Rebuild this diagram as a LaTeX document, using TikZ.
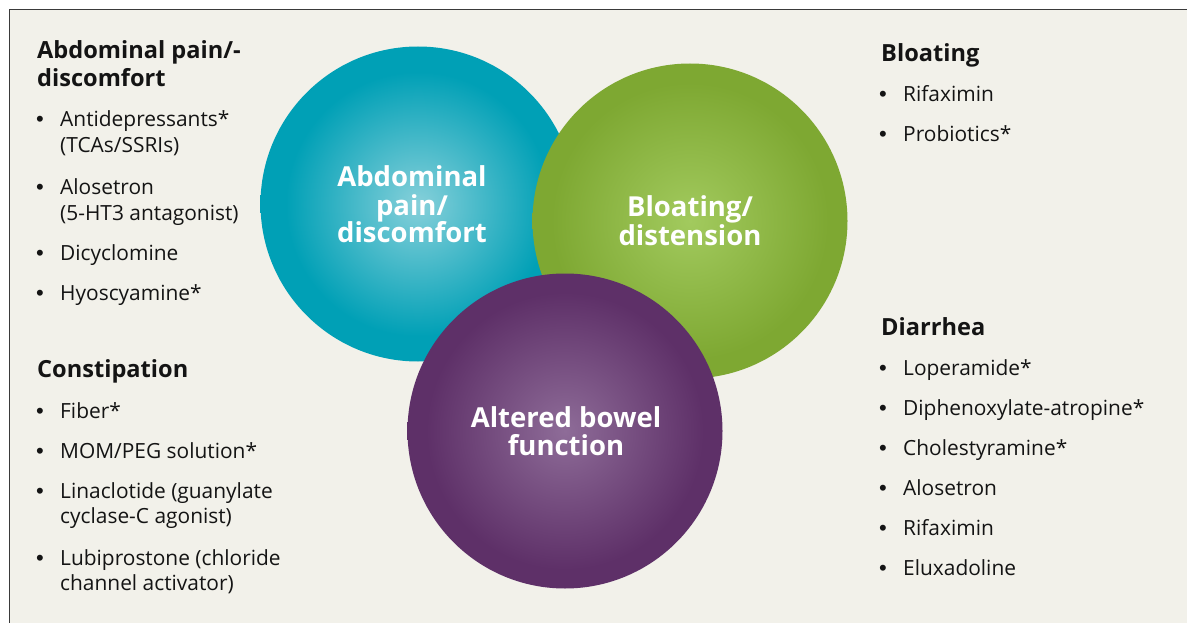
\documentclass[tikz,border=0pt]{standalone}
\usepackage{fontspec}
\setmainfont{Open Sans}
\newfontfamily\bltfont{Liberation Sans}
\definecolor{bg}{HTML}{F2F1EA}
\definecolor{framec}{HTML}{3A3A3A}
\definecolor{txt}{HTML}{141414}
\definecolor{tealE}{HTML}{00A0B6}
\definecolor{tealC}{HTML}{86D0DA}
\definecolor{greenE}{HTML}{7EA832}
\definecolor{greenC}{HTML}{A2CA5E}
\definecolor{purpE}{HTML}{5E3068}
\definecolor{purpC}{HTML}{8E6C98}
\pgfdeclareradialshading{tealball}{\pgfpoint{0bp}{0bp}}{color(0bp)=(tealC); color(21bp)=(tealE); color(50bp)=(tealE)}
\pgfdeclareradialshading{greenball}{\pgfpoint{0bp}{0bp}}{color(0bp)=(greenC); color(22bp)=(greenE); color(50bp)=(greenE)}
\pgfdeclareradialshading{purpball}{\pgfpoint{0bp}{0bp}}{color(0bp)=(purpC); color(22bp)=(purpE); color(50bp)=(purpE)}
\begin{document}
\begin{tikzpicture}[x=1pt,y=-1pt,
  ball/.style={circle, draw=none, inner sep=0pt, minimum size=315pt},
  head/.style={anchor=base west, inner sep=0pt, text=txt, font=\fontsize{23.6}{28}\selectfont\bfseries},
  item/.style={anchor=base west, inner sep=0pt, text=txt, font=\fontsize{20.9}{24}\selectfont},
  blt/.style={anchor=base west, inner sep=0pt, text=txt, font=\bltfont\fontsize{22}{24}\selectfont},
  lab/.style={anchor=base, inner sep=0pt, text=white, font=\fontsize{27.5}{29}\selectfont\bfseries}]
\useasboundingbox (0,0) rectangle (1187,623);
\fill[white] (0,0) rectangle (1187,623);
\fill[bg] (9.5,9.5) rectangle (1187,623);
\draw[framec, line width=1.6pt] (9.5,623) -- (9.5,9.5) -- (1187,9.5);

% circles
\node[ball, shade, shading=tealball] (cteal) at (418,204) {};
\node[ball, shade, shading=greenball] (cgreen) at (690,221) {};
\node[ball, shade, shading=purpball] (cpurp) at (565,431) {};

\node[lab] (lt1) at (412,186) {Abdominal};
\node[lab] (lt2) at (412,215) {pain/};
\node[lab] (lt3) at (412,243) {discomfort};
\node[lab] (lg1) at (690,217) {Bloating/};
\node[lab] (lg2) at (690,245) {distension};
\node[lab] (lp1) at (566,427) {Altered bowel};
\node[lab] (lp2) at (566,455) {function};

% left column
\node[head] (h1a) at (37,59) {Abdominal pain/-};
\node[head] (h1b) at (37,87) {discomfort};
\node[blt] (b11) at (36,127) {•};
\node[item] (i11) at (60,127) {Antidepressants*};
\node[item] (i11b) at (60,153) {(TCAs/SSRIs)};
\node[blt] (b12) at (36,195) {•};
\node[item] (i12) at (60,195) {Alosetron};
\node[item] (i12b) at (60,220) {(5-HT3 antagonist)};
\node[blt] (b13) at (36,260) {•};
\node[item] (i13) at (60,260) {Dicyclomine};
\node[blt] (b14) at (36,300) {•};
\node[item] (i14) at (60,300) {Hyoscyamine*};

\node[head] (h2) at (37,377) {Constipation};
\node[blt] (b21) at (36,418) {•};
\node[item] (i21) at (60,418) {Fiber*};
\node[blt] (b22) at (36,458) {•};
\node[item] (i22) at (60,458) {MOM/PEG solution*};
\node[blt] (b23) at (36,498) {•};
\node[item] (i23) at (60,498) {Linaclotide (guanylate};
\node[item] (i23b) at (60,523) {cyclase-C agonist)};
\node[blt] (b24) at (36,565) {•};
\node[item] (i24) at (60,565) {Lubiprostone (chloride};
\node[item] (i24b) at (60,590) {channel activator)};

% right column
\node[head] (h3) at (881,62) {Bloating};
\node[blt] (b31) at (879,102) {•};
\node[item] (i31) at (903,102) {Rifaximin};
\node[blt] (b32) at (879,142) {•};
\node[item] (i32) at (903,142) {Probiotics*};

\node[head] (h4) at (881,335) {Diarrhea};
\node[blt] (b41) at (879,375) {•};
\node[item] (i41) at (903,375) {Loperamide*};
\node[blt] (b42) at (879,415) {•};
\node[item] (i42) at (903,415) {Diphenoxylate-atropine*};
\node[blt] (b43) at (879,455) {•};
\node[item] (i43) at (903,455) {Cholestyramine*};
\node[blt] (b44) at (879,495) {•};
\node[item] (i44) at (903,495) {Alosetron};
\node[blt] (b45) at (879,535) {•};
\node[item] (i45) at (903,535) {Rifaximin};
\node[blt] (b46) at (879,575) {•};
\node[item] (i46) at (903,575) {Eluxadoline};
\end{tikzpicture}
\end{document}
